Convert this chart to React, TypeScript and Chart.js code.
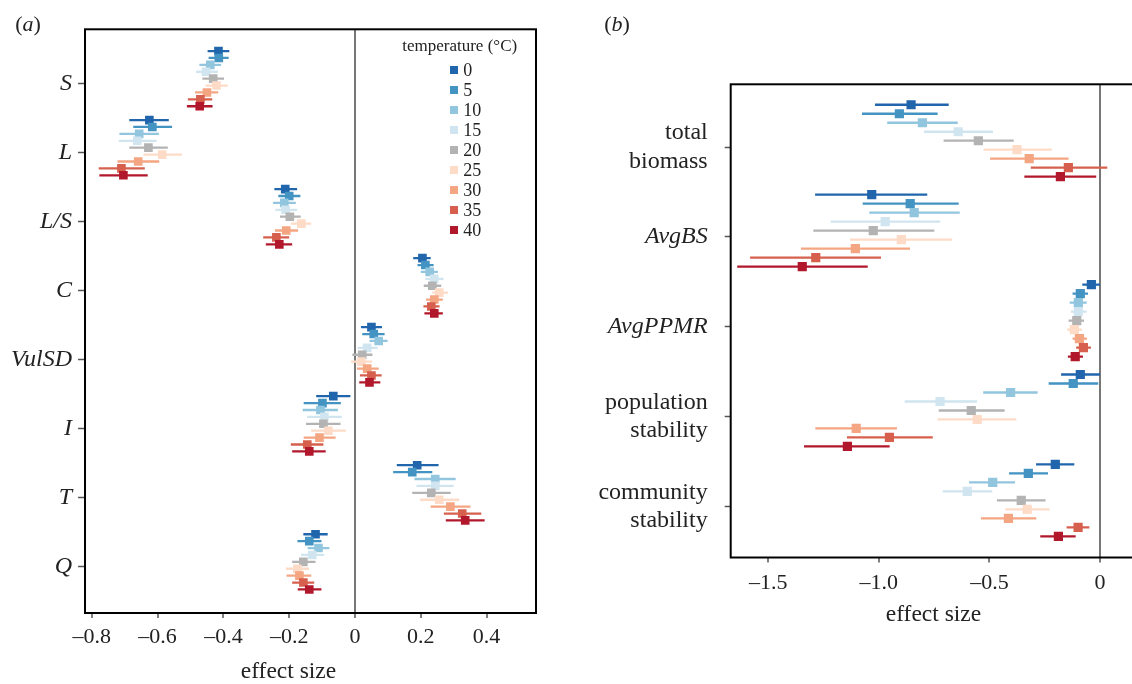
import React, { useEffect, useRef } from 'react';
import { Chart, registerables } from 'chart.js';

Chart.register(...registerables);

// ---------- data ----------
const temperatures = ['0', '5', '10', '15', '20', '25', '30', '35', '40'];
const tempColors = ['#2166ac', '#4393c3', '#92c5de', '#d1e5f0', '#b3b3b3', '#fddbc7', '#f4a582', '#d6604d', '#b2182b'];

const metricsA = ['S', 'L', 'L/S', 'C', 'VulSD', 'I', 'T', 'Q'];
const metricsB: (string | string[])[] = [['total', 'biomass'], 'AvgBS', 'AvgPPMR', ['population', 'stability'], ['community', 'stability']];
const italicB = [false, true, true, false, false];

const xTicksA = [-0.8, -0.6, -0.4, -0.2, 0, 0.2, 0.4];
const xTickLabelsA = ['–0.8', '–0.6', '–0.4', '–0.2', '0', '0.2', '0.4'];
const xTicksB = [-1.5, -1.0, -0.5, 0];
const xTickLabelsB = ['–1.5', '–1.0', '–0.5', '0'];

// [estimate, lower, upper] for temperatures 0..40
const S_vals = [
  [-0.415, -0.448, -0.382], [-0.414, -0.445, -0.384], [-0.440, -0.473, -0.407],
  [-0.453, -0.483, -0.417], [-0.431, -0.464, -0.398], [-0.421, -0.454, -0.387],
  [-0.450, -0.486, -0.416], [-0.470, -0.508, -0.434], [-0.472, -0.511, -0.433],
];
const L_vals = [
  [-0.625, -0.686, -0.566], [-0.616, -0.674, -0.556], [-0.656, -0.716, -0.596],
  [-0.662, -0.718, -0.603], [-0.628, -0.686, -0.569], [-0.586, -0.643, -0.526],
  [-0.659, -0.722, -0.595], [-0.710, -0.779, -0.639], [-0.704, -0.777, -0.630],
];
const LS_vals = [
  [-0.212, -0.245, -0.176], [-0.200, -0.233, -0.166], [-0.215, -0.249, -0.180],
  [-0.211, -0.242, -0.176], [-0.198, -0.228, -0.165], [-0.163, -0.195, -0.133],
  [-0.209, -0.243, -0.173], [-0.239, -0.279, -0.200], [-0.230, -0.271, -0.191],
];
const C_vals = [
  [0.205, 0.177, 0.230], [0.214, 0.190, 0.239], [0.227, 0.200, 0.252],
  [0.241, 0.214, 0.269], [0.235, 0.209, 0.262], [0.256, 0.235, 0.282],
  [0.241, 0.216, 0.267], [0.232, 0.208, 0.257], [0.241, 0.211, 0.267],
];
const VulSD_vals = [
  [0.050, 0.018, 0.082], [0.057, 0.022, 0.090], [0.072, 0.044, 0.099],
  [0.037, 0.008, 0.069], [0.022, -0.008, 0.053], [0.019, -0.012, 0.052],
  [0.037, 0.006, 0.072], [0.050, 0.015, 0.081], [0.044, 0.013, 0.077],
];
const I_vals = [
  [-0.066, -0.118, -0.014], [-0.099, -0.156, -0.043], [-0.105, -0.159, -0.052],
  [-0.093, -0.145, -0.040], [-0.096, -0.149, -0.044], [-0.081, -0.133, -0.028],
  [-0.108, -0.156, -0.059], [-0.145, -0.195, -0.096], [-0.139, -0.191, -0.089],
];
const T_vals = [
  [0.189, 0.127, 0.254], [0.174, 0.116, 0.235], [0.244, 0.181, 0.306],
  [0.244, 0.187, 0.300], [0.232, 0.174, 0.291], [0.256, 0.198, 0.317],
  [0.290, 0.230, 0.351], [0.326, 0.270, 0.384], [0.335, 0.276, 0.394],
];
const Q_vals = [
  [-0.120, -0.157, -0.083], [-0.139, -0.175, -0.102], [-0.111, -0.144, -0.078],
  [-0.130, -0.164, -0.094], [-0.157, -0.191, -0.120], [-0.175, -0.210, -0.140],
  [-0.169, -0.208, -0.133], [-0.157, -0.191, -0.124], [-0.139, -0.174, -0.102],
];

const biomass_vals = [
  [-0.854, -1.017, -0.684], [-0.907, -1.076, -0.734], [-0.803, -0.962, -0.643],
  [-0.641, -0.796, -0.484], [-0.550, -0.707, -0.390], [-0.375, -0.526, -0.218],
  [-0.320, -0.497, -0.142], [-0.143, -0.313, 0.033], [-0.179, -0.342, -0.017],
];
const AvgBS_vals = [
  [-1.032, -1.288, -0.781], [-0.858, -1.073, -0.639], [-0.840, -1.043, -0.634],
  [-0.971, -1.217, -0.722], [-1.025, -1.296, -0.749], [-0.898, -1.130, -0.668],
  [-1.106, -1.352, -0.859], [-1.285, -1.582, -0.990], [-1.346, -1.640, -1.050],
];
const AvgPPMR_vals = [
  [-0.039, -0.080, 0.000], [-0.089, -0.124, -0.054], [-0.098, -0.137, -0.060],
  [-0.098, -0.131, -0.060], [-0.105, -0.142, -0.072], [-0.116, -0.148, -0.081],
  [-0.093, -0.124, -0.059], [-0.075, -0.108, -0.041], [-0.112, -0.145, -0.077],
];
const popStab_vals = [
  [-0.089, -0.176, 0.000], [-0.121, -0.232, -0.008], [-0.404, -0.528, -0.282],
  [-0.723, -0.883, -0.556], [-0.582, -0.729, -0.431], [-0.555, -0.734, -0.378],
  [-1.102, -1.287, -0.918], [-0.952, -1.144, -0.756], [-1.142, -1.338, -0.951],
];
const comStab_vals = [
  [-0.202, -0.289, -0.116], [-0.324, -0.411, -0.235], [-0.485, -0.592, -0.384],
  [-0.600, -0.711, -0.487], [-0.356, -0.466, -0.246], [-0.329, -0.428, -0.228],
  [-0.414, -0.538, -0.288], [-0.099, -0.151, -0.048], [-0.188, -0.270, -0.110],
];

const groupsA = [S_vals, L_vals, LS_vals, C_vals, VulSD_vals, I_vals, T_vals, Q_vals];
const groupsB = [biomass_vals, AvgBS_vals, AvgPPMR_vals, popStab_vals, comStab_vals];

// ---------- layout ----------
const SERIF = '"Liberation Serif", "Times New Roman", Times, serif';
const TEXT = '#222';

function buildDatasets(groups: number[][][], markerRadius: number) {
  const ds: any[] = [];
  temperatures.forEach((t, ti) => {
    const off = (ti - 4.7) * 0.1;
    const segs: any[] = [];
    const pts: any[] = [];
    groups.forEach((g, gi) => {
      const y = gi + 1 + off;
      const [est, lo, hi] = g[ti];
      segs.push({ x: lo, y }, { x: hi, y }, { x: hi, y: null });
      pts.push({ x: est, y });
    });
    ds.push({
      type: 'line',
      label: t + ' CI',
      data: segs,
      borderColor: tempColors[ti],
      borderWidth: 2.3,
      pointRadius: 0,
      spanGaps: false,
      fill: false,
      tension: 0,
      order: 100 + ti,
    });
    ds.push({
      type: 'scatter',
      label: t,
      data: pts,
      pointStyle: 'rect',
      pointRadius: markerRadius,
      pointBackgroundColor: tempColors[ti],
      pointBorderWidth: 0,
      pointBorderColor: tempColors[ti],
      order: 50 - ti,
    });
  });
  return ds;
}

const framePlugin = {
  id: 'frame',
  afterDatasetsDraw(chart: any) {
    const { ctx, chartArea: a } = chart;
    ctx.save();
    ctx.strokeStyle = '#000';
    ctx.lineWidth = 2;
    ctx.strokeRect(a.left, a.top, a.right - a.left, a.bottom - a.top);
    ctx.restore();
  },
};

function makeConfig(opts: {
  groups: number[][][];
  markerRadius: number;
  xMin: number; xMax: number; xTicks: number[]; xLabels: string[];
  yMin: number; yMax: number; yLabels: (string | string[])[];
  yFont: (ctx: any) => any;
  xFontSize: number;
  yAxisWidth: number; xAxisHeight: number;
  padTop: number; padRight: number;
  yTickLen: number; yPad: number; xPad: number;
}) {
  return {
    type: 'scatter',
    data: { datasets: buildDatasets(opts.groups, opts.markerRadius) },
    options: {
      animation: false,
      responsive: false,
      maintainAspectRatio: false,
      devicePixelRatio: 1,
      events: [],
      layout: { padding: { left: 0, top: opts.padTop, right: opts.padRight, bottom: 0 } },
      plugins: { legend: { display: false }, tooltip: { enabled: false }, title: { display: false } },
      scales: {
        x: {
          type: 'linear',
          min: opts.xMin,
          max: opts.xMax,
          afterBuildTicks: (scale: any) => { scale.ticks = opts.xTicks.map((v) => ({ value: v })); },
          afterFit: (scale: any) => { scale.height = opts.xAxisHeight; },
          ticks: {
            autoSkip: false,
            maxRotation: 0,
            padding: opts.xPad,
            color: TEXT,
            font: { family: SERIF, size: opts.xFontSize },
            callback: (v: number) => {
              const i = opts.xTicks.findIndex((t) => Math.abs(t - v) < 1e-9);
              return i >= 0 ? opts.xLabels[i] : '';
            },
          },
          grid: {
            drawOnChartArea: true,
            color: (ctx: any) => (ctx.tick && Math.abs(ctx.tick.value) < 1e-9 ? '#777' : 'rgba(0,0,0,0)'),
            lineWidth: 2,
            tickColor: '#555',
            tickWidth: 1.5,
            tickLength: 5,
          },
          border: { display: false },
        },
        y: {
          type: 'linear',
          reverse: true,
          min: opts.yMin,
          max: opts.yMax,
          afterBuildTicks: (scale: any) => { scale.ticks = opts.yLabels.map((_, i) => ({ value: i + 1 })); },
          afterFit: (scale: any) => { scale.width = opts.yAxisWidth; },
          ticks: {
            autoSkip: false,
            padding: opts.yPad,
            color: TEXT,
            font: opts.yFont,
            callback: (v: number) => opts.yLabels[Math.round(v) - 1],
          },
          grid: {
            drawOnChartArea: false,
            tickColor: '#555',
            tickWidth: 1.5,
            tickLength: opts.yTickLen,
          },
          border: { display: false },
        },
      },
    },
    plugins: [framePlugin],
  } as any;
}

export default function App() {
  const refA = useRef<HTMLCanvasElement>(null);
  const refB = useRef<HTMLCanvasElement>(null);

  useEffect(() => {
    const chartA = new Chart(refA.current as HTMLCanvasElement, makeConfig({
      groups: groupsA,
      markerRadius: 6.1,
      xMin: -0.8207, xMax: 0.5502, xTicks: xTicksA, xLabels: xTickLabelsA,
      yMin: 0.215, yMax: 8.671, yLabels: metricsA,
      yFont: () => ({ family: SERIF, size: 24, style: 'italic' }),
      xFontSize: 22,
      yAxisWidth: 85, xAxisHeight: 684 - 613,
      padTop: 29.3, padRight: 560 - 536,
      yTickLen: 7, yPad: 6, xPad: 5.8,
    }));
    const chartB = new Chart(refB.current as HTMLCanvasElement, makeConfig({
      groups: groupsB,
      markerRadius: 6.5,
      xMin: -1.6695, xMax: 0.3165, xTicks: xTicksB, xLabels: xTickLabelsB,
      yMin: 0.3025, yMax: 5.565, yLabels: metricsB,
      yFont: (ctx: any) => ({ family: SERIF, size: 24, style: italicB[ctx.index] ? 'italic' : 'normal', lineHeight: 1.2 }),
      xFontSize: 22,
      yAxisWidth: 730.7 - 580, xAxisHeight: 684 - 557.5,
      padTop: 84.3, padRight: 600 - 1170 + 580,
      yTickLen: 6, yPad: 17, xPad: 7.3,
    }));
    return () => { chartA.destroy(); chartB.destroy(); };
  }, []);

  const txt = (x: number, y: number, size: number, content: React.ReactNode, extra: any = {}) => (
    <div style={{
      position: 'absolute', left: x, top: y, transform: 'translate(-50%, -50%)',
      fontFamily: SERIF, fontSize: size, lineHeight: 1, color: TEXT, whiteSpace: 'nowrap', ...extra,
    }}>{content}</div>
  );

  return (
    <div style={{ position: 'fixed', left: 0, top: 0, width: 1132, height: 684, overflow: 'hidden', background: '#fff' }}>
      <canvas ref={refA} width={560} height={684} style={{ position: 'absolute', left: 0, top: 0, width: 560, height: 684 }} />
      <canvas ref={refB} width={600} height={684} style={{ position: 'absolute', left: 580, top: 0, width: 600, height: 684 }} />
      {txt(28, 24, 22, <span>(<i>a</i>)</span>)}
      {txt(617, 24, 22, <span>(<i>b</i>)</span>)}
      {txt(288.5, 671, 23.5, 'effect size')}
      {txt(933.5, 613.5, 23.5, 'effect size')}
      {txt(459.7, 44.5, 17, 'temperature (°C)')}
      {temperatures.map((t, i) => (
        <React.Fragment key={t}>
          <div style={{ position: 'absolute', left: 450, top: 69.5 + 20.1 * i - 4, width: 8, height: 8, background: tempColors[i] }} />
          <div style={{
            position: 'absolute', left: 463.3, top: 69.5 + 20.1 * i, transform: 'translateY(-50%)',
            fontFamily: SERIF, fontSize: 18, lineHeight: 1, color: TEXT,
          }}>{t}</div>
        </React.Fragment>
      ))}
    </div>
  );
}
